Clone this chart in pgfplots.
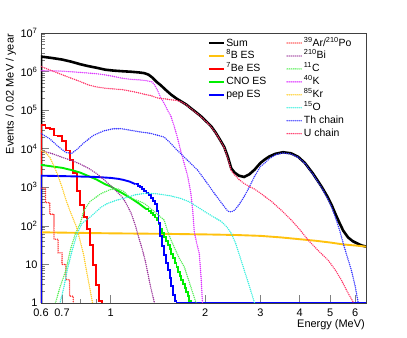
\documentclass[border=0pt]{standalone}
\usepackage{fontspec}
\setmainfont{Liberation Sans}
\usepackage{pgfplots}
\pgfplotsset{compat=1.18}

\definecolor{cB}{HTML}{FFC20E}
\definecolor{cBe}{HTML}{FF0000}
\definecolor{cCNO}{HTML}{00EE00}
\definecolor{cpep}{HTML}{0000FF}
\definecolor{cAr}{HTML}{FF3333}
\definecolor{cBi}{HTML}{993399}
\definecolor{cC}{HTML}{55EE55}
\definecolor{cK}{HTML}{DD33FF}
\definecolor{cKr}{HTML}{FFCC22}
\definecolor{cO}{HTML}{33EEDD}
\definecolor{cTh}{HTML}{3333FF}
\definecolor{cUch}{HTML}{FF3366}

\tikzset{
  esline/.style={line width=1.9pt},
  dotline/.style={line width=1.6pt, line cap=round, dash pattern=on 0pt off 2pt},
}

\begin{document}
\begin{tikzpicture}
\path[use as bounding box] (-41bp,-35bp) rectangle (366bp,303bp);
\begin{axis}[
  at={(0,0)}, anchor=south west,
  scale only axis, width=325bp, height=270bp,
  xmode=log, ymode=log,
  xmin=0.6, xmax=6.5, ymin=1, ymax=1e7,
  xtick={0.6,0.7,1,2,3,4,5,6},
  xticklabels={0.6,0.7,1,2,3,4,5,6},
  minor xtick={0.8,0.9},
  ytick={1,10,100,1000,10000,100000,1000000,10000000},
  yticklabels={1,10,10\textsuperscript{2},10\textsuperscript{3},10\textsuperscript{4},10\textsuperscript{5},10\textsuperscript{6},10\textsuperscript{7}},
  xtick pos=bottom, ytick pos=left,
  tick align=inside,
  major tick length=8bp, minor tick length=4bp,
  axis line style={black!75, line width=0.8pt},
  tick style={black!50, line width=0.6pt},
  ticklabel style={font=\fontsize{11}{13}\selectfont},
  xticklabel style={yshift=-2bp},
  xlabel={Energy (MeV)},
  ylabel={Events / 0.02 MeV / year},
  label style={font=\fontsize{11}{13}\selectfont},
  xlabel style={at={(ticklabel cs:1)}, anchor=north east, inner sep=1pt, yshift=1bp},
  ylabel style={at={(ticklabel cs:1)}, anchor=south east, inner sep=1pt},
  legend columns=2,
  legend cell align=left,
  legend image code/.code={\draw[#1] (0bp,0bp) -- (15bp,0bp);},
  legend style={at={(rel axis cs:0.503,0.995)}, anchor=north west,
    draw=none, fill=none, font=\fontsize{10.5}{12}\selectfont,
    nodes={inner sep=1pt, text height=8.5pt, text depth=2.5pt},
    row sep=0pt,
    /tikz/every even column/.append style={column sep=19bp}},
]
% legend, filled row by row
\addlegendimage{draw=black, line width=2.6pt}\addlegendentry{Sum}
\addlegendimage{draw=cAr, dotline}\addlegendentry{\textsuperscript{39}Ar/\textsuperscript{210}Po}
\addlegendimage{draw=cB, esline}\addlegendentry{\textsuperscript{8}B ES}
\addlegendimage{draw=cBi, dotline}\addlegendentry{\textsuperscript{210}Bi}
\addlegendimage{draw=cBe, esline}\addlegendentry{\textsuperscript{7}Be ES}
\addlegendimage{draw=cC, dotline}\addlegendentry{\textsuperscript{11}C}
\addlegendimage{draw=cCNO, esline}\addlegendentry{CNO ES}
\addlegendimage{draw=cK, dotline}\addlegendentry{\textsuperscript{40}K}
\addlegendimage{draw=cpep, esline}\addlegendentry{pep ES}
\addlegendimage{draw=cKr, dotline}\addlegendentry{\textsuperscript{85}Kr}
\addlegendimage{empty legend}\addlegendentry{}
\addlegendimage{draw=cO, dotline}\addlegendentry{\textsuperscript{15}O}
\addlegendimage{empty legend}\addlegendentry{}
\addlegendimage{draw=cTh, dotline}\addlegendentry{Th chain}
\addlegendimage{empty legend}\addlegendentry{}
\addlegendimage{draw=cUch, dotline}\addlegendentry{U chain}

% Sum
\addplot[draw=black, line width=2.6pt, forget plot] coordinates {
(0.60,0.5)
(0.60,2.45e6)(0.65,2.25e6)(0.70,2.05e6)(0.75,1.8e6)(0.80,1.55e6)(0.85,1.38e6)
(0.90,1.26e6)(0.96,1.12e6)(1.02,1.06e6)(1.09,1.02e6)(1.16,9.9e5)(1.23,9.5e5)
(1.28,9.1e5)(1.32,8.3e5)(1.36,6.9e5)(1.40,5.4e5)(1.44,4.5e5)(1.50,3.3e5)
(1.555,2.55e5)(1.62,2.0e5)(1.673,1.7e5)(1.74,1.4e5)(1.80,1.12e5)(1.87,8.8e4)
(1.94,6.9e4)(2.01,5.2e4)(2.09,3.8e4)(2.16,2.6e4)(2.23,1.7e4)(2.30,1.1e4)
(2.36,6.2e3)(2.42,3.1e3)(2.48,2.4e3)(2.56,2.0e3)(2.66,1.85e3)(2.76,2.15e3)
(2.87,2.85e3)(3.0,4.3e3)(3.1,5.3e3)(3.2,6.3e3)(3.35,7.4e3)(3.54,8.1e3)
(3.75,7.6e3)(3.95,6.2e3)(4.15,4.3e3)(4.4,2.3e3)(4.69,1.05e3)(4.9,570)
(5.05,350)(5.2,200)(5.35,120)(5.5,75)(5.7,50)(5.9,40)(6.14,34)(6.3,31)(6.5,29)};

% 8B ES
\addplot[draw=cB, esline, forget plot] coordinates {
(0.6,68)(1,64)(1.5,62)(2,60)(2.5,58)(3,55)(3.5,50)(4,45)(4.5,41)(5,37)(5.5,33)(6,31)(6.5,29)};

% 7Be ES
\addplot[draw=cBe, esline, const plot, forget plot] coordinates {
(0.60,0.5)
(0.60,4.1e4)(0.62,3.4e4)(0.64,3.3e4)(0.66,2.2e4)(0.68,2.1e4)(0.70,1.6e4)
(0.72,9e3)(0.74,5e3)(0.76,2.3e3)(0.78,800)(0.80,340)(0.82,170)(0.84,85)
(0.86,32)(0.88,9.5)(0.90,2.9)(0.92,1.1)(0.94,0.5)(0.96,0.5)};

% CNO ES
\addplot[draw=cCNO, esline, forget plot] coordinates {
(0.6,3.8e3)(0.7,3.2e3)(0.75,2.8e3)(0.8,2.4e3)(0.85,1.95e3)(0.9,1.6e3)
(0.96,1.2e3)(1.0,1.05e3)(1.09,700)(1.16,520)(1.23,380)(1.30,270)};
\addplot[draw=cCNO, esline, const plot, forget plot] coordinates {
(1.30,270)(1.32,245)(1.34,220)(1.36,195)(1.38,165)(1.40,140)(1.42,112)
(1.44,85)(1.46,66)(1.48,52)(1.50,41)(1.52,32)(1.54,25)(1.56,19)(1.58,14.5)
(1.60,11)(1.62,8.5)(1.64,6.5)(1.66,5.1)(1.68,4)(1.70,3.1)(1.72,2.5)(1.74,1.9)
(1.76,1.5)(1.78,1.1)(1.80,0.6)(1.82,0.6)};

% pep ES
\addplot[draw=cpep, esline, forget plot] coordinates {
(0.6,0.5)
(0.6,2000)(0.7,1950)(0.8,1900)(0.9,1850)(1.0,1750)(1.06,1650)(1.1,1550)
(1.15,1400)(1.20,1200)};
\addplot[draw=cpep, esline, const plot, forget plot] coordinates {
(1.20,1200)(1.22,1100)(1.24,1000)(1.26,900)(1.28,800)(1.30,700)(1.32,620)
(1.34,520)(1.36,450)(1.38,360)(1.40,240)(1.42,120)(1.44,55)(1.46,30)
(1.48,18)(1.50,11)(1.52,7)(1.54,4.5)(1.56,2.8)(1.58,1.6)(1.60,1.1)(1.62,1)(6.5,1)};

% 39Ar/210Po
\addplot[draw=cAr, dotline, const plot, forget plot] coordinates {
(0.60,950)(0.62,400)(0.64,200)(0.66,45)(0.68,20)(0.70,10)(0.72,4)(0.74,1.5)(0.76,0.5)(0.78,0.5)};

% 210Bi
\addplot[draw=cBi, dotline, forget plot] coordinates {
(0.6,9e3)(0.65,7.5e3)(0.70,6e3)(0.75,5e3)(0.80,4e3)(0.85,3.1e3)(0.90,2.3e3)
(0.95,1.6e3)(1.0,1.1e3)(1.05,750)(1.09,550)(1.12,380)(1.16,220)(1.20,100)
(1.22,60)(1.26,25)(1.29,12)(1.34,2.6)(1.375,1.1)(1.39,0.6)};

% 11C
\addplot[draw=cC, dotline, forget plot] coordinates {
(0.66,0.8)(0.667,1)(0.69,2.6)(0.72,7)(0.745,25)(0.773,64)(0.80,116)(0.822,250)
(0.86,430)(0.93,680)(1.0,880)(1.05,920)(1.1,780)(1.16,520)(1.23,440)(1.28,380)
(1.32,310)(1.40,210)(1.48,141)(1.53,60)(1.59,29)(1.65,15)(1.715,8.7)(1.8,2.6)
(1.87,1)(1.89,0.6)};

% 40K
\addplot[draw=cK, dotline, forget plot] coordinates {
(0.60,1.05e6)(0.70,1.03e6)(0.80,9.5e5)(0.90,8.8e5)(0.96,8.2e5)(1.02,7.5e5)
(1.09,6.7e5)(1.16,6.3e5)(1.23,6.1e5)(1.30,5.8e5)(1.355,5.4e5)(1.38,4.5e5)
(1.406,3.4e5)(1.44,2.2e5)(1.48,1.5e5)(1.517,1e5)(1.555,7e4)(1.59,4e4)
(1.63,2e4)(1.67,9e3)(1.71,4.5e3)(1.76,1.9e3)(1.80,700)(1.825,250)(1.846,70)
(1.88,35)(1.915,19)(1.94,4.8)(1.96,1)(1.97,0.5)};

% 85Kr
\addplot[draw=cKr, dotline, forget plot] coordinates {
(0.60,9e3)(0.62,8e3)(0.64,6e3)(0.66,3.5e3)(0.68,2e3)(0.70,1e3)(0.72,480)
(0.74,260)(0.76,150)(0.78,90)(0.80,40)(0.82,18)(0.84,6)(0.86,2.2)(0.88,0.8)};

% 15O
\addplot[draw=cO, dotline, forget plot] coordinates {
(0.68,0.6)(0.69,1)(0.71,2.6)(0.727,7)(0.754,23)(0.783,64)(0.81,116)(0.863,172)
(0.93,300)(0.976,380)(1.05,470)(1.1,515)(1.2,640)(1.29,700)(1.4,680)(1.55,600)
(1.67,515)(1.78,420)(1.89,310)(2.0,230)(2.1,180)(2.25,130)(2.34,95)(2.42,64)
(2.5,35)(2.6,13)(2.68,6)(2.77,2.6)(2.87,1)(2.9,0.6)};

% Th chain
\addplot[draw=cTh, dotline, forget plot] coordinates {
(0.60,2.5e4)(0.64,1.8e4)(0.68,1.15e4)(0.72,8e3)(0.75,7.5e3)(0.78,9.5e3)
(0.82,1.4e4)(0.88,2.2e4)(0.95,2.9e4)(1.02,3.3e4)(1.08,3.3e4)(1.16,3.0e4)
(1.25,2.7e4)(1.34,2.5e4)(1.42,2.2e4)(1.48,2.0e4)(1.55,1.4e4)(1.62,9.5e3)
(1.67,7.5e3)(1.78,4.5e3)(1.89,2.8e3)(2.0,1.5e3)(2.14,690)(2.25,400)(2.36,240)
(2.42,230)(2.48,255)(2.56,350)(2.66,570)(2.76,1.0e3)(2.87,1.9e3)(3.0,3.5e3)
(3.09,4.2e3)(3.2,5.5e3)(3.35,7e3)(3.54,7.8e3)(3.75,7.3e3)(3.95,6e3)(4.15,4.2e3)
(4.4,2.2e3)(4.69,1e3)(4.9,520)(5.05,310)(5.2,160)(5.35,80)(5.5,35)(5.65,17)
(5.84,7)(6.0,2.8)(6.14,1)(6.2,0.6)};

% U chain
\addplot[draw=cUch, dotline, forget plot] coordinates {
(0.60,1.35e6)(0.65,1.05e6)(0.68,9.1e5)(0.75,6.7e5)(0.80,5.5e5)(0.85,4.5e5)
(0.90,4.0e5)(0.96,3.7e5)(1.02,3.55e5)(1.09,3.4e5)(1.16,3.1e5)(1.23,2.8e5)
(1.30,2.5e5)(1.34,2.4e5)(1.40,2.1e5)(1.44,2.0e5)(1.50,1.95e5)(1.555,1.85e5)
(1.62,1.8e5)(1.673,1.65e5)(1.74,1.38e5)(1.80,1.1e5)(1.87,8.6e4)(1.94,6.7e4)
(2.01,5.1e4)(2.09,3.7e4)(2.16,2.55e4)(2.23,1.65e4)(2.30,1.05e4)(2.36,5.6e3)
(2.42,2.7e3)(2.48,2.1e3)(2.56,1.6e3)(2.66,1.25e3)(2.76,1.05e3)(2.87,900)
(3.0,700)(3.25,430)(3.5,250)(3.76,141)(4.0,80)(4.25,43)(4.6,22)(4.92,13)
(5.2,7)(5.43,3.9)(5.7,1.8)(5.9,1.1)(6.0,0.8)};
\end{axis}
\end{tikzpicture}
\end{document}
